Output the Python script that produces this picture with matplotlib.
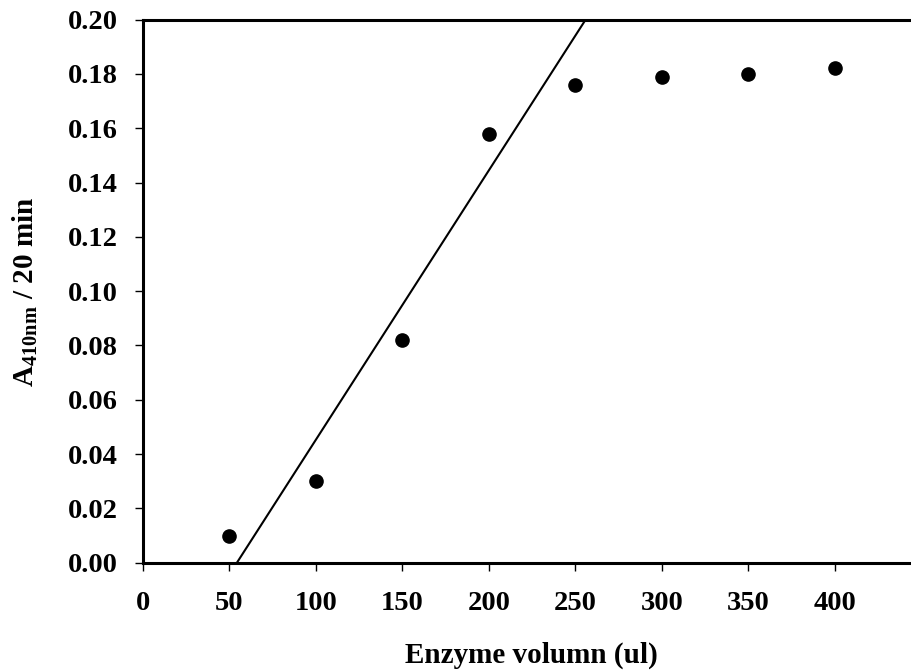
import numpy as np
import matplotlib
matplotlib.use("Agg")
import matplotlib.pyplot as plt

# enzyme volume (ul) vs absorbance at 410 nm after 20 min
volume = [50, 100, 150, 200, 250, 300, 350, 400]
absorbance = [0.010, 0.030, 0.082, 0.158, 0.176, 0.179, 0.180, 0.182]
n_linear = 4  # points in the linear range used for the trend line

x_ticks = [0, 50, 100, 150, 200, 250, 300, 350, 400]
y_ticks = [0.00, 0.02, 0.04, 0.06, 0.08, 0.10, 0.12, 0.14, 0.16, 0.18, 0.20]

plt.rcParams['font.family'] = ['Liberation Serif', 'DejaVu Serif']
plt.rcParams['font.weight'] = 'bold'
plt.rcParams['mathtext.fontset'] = 'custom'
plt.rcParams['mathtext.rm'] = 'Liberation Serif'

fig = plt.figure(figsize=(9.12, 6.72), dpi=100)
ax = fig.add_axes([0.1565, 0.1626, 0.8536, 0.8083])

ax.plot(volume, absorbance, 'o', color='black', markersize=9.5, zorder=3)

# least squares line through the linear part
slope, intercept = np.polyfit(volume[:n_linear], absorbance[:n_linear], 1)
fit_x = np.array([0, 450])
ax.plot(fit_x, slope * fit_x + intercept, color='black', linewidth=1.5)

ax.set_xlim(0, 450)
ax.set_ylim(0, 0.20)
ax.set_xticks(x_ticks)
ax.set_yticks(y_ticks)
ax.set_yticklabels([f'{v:.2f}' for v in y_ticks])

for side in ['left', 'bottom', 'top']:
    ax.spines[side].set_linewidth(2.2)
ax.spines['right'].set_visible(False)

ax.tick_params(axis='both', direction='out', length=6, width=1, labelsize=20.5)
ax.tick_params(axis='x', pad=14)
ax.tick_params(axis='y', pad=12)

fig.text(0.028, 0.565, r'A$_{\rm 410nm}$ / 20 min', rotation=90,
         ha='center', va='center', fontsize=21, fontweight='bold')
fig.text(0.583, 0.025, 'Enzyme volumn (ul)', ha='center', va='center',
         fontsize=21, fontweight='bold')

fig.savefig('out.png', dpi=100)
